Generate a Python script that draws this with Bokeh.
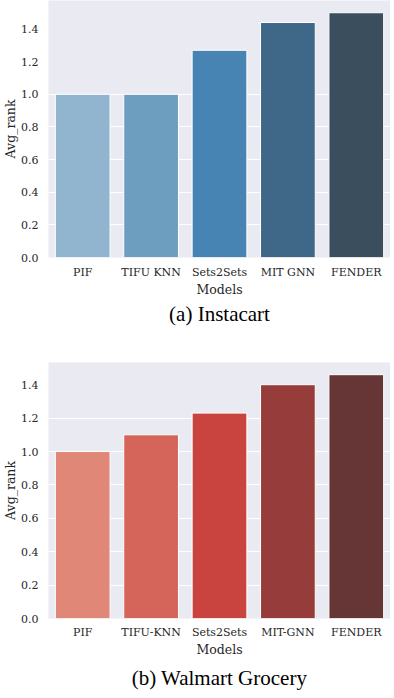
from bokeh.plotting import figure
from bokeh.layouts import column
from bokeh.models import FactorRange, Range1d, FixedTicker, Title, ColumnDataSource, PrintfTickFormatter
from bokeh.embed import file_html
from bokeh.resources import INLINE

models = ["PIF", "TIFU-KNN", "Sets2Sets", "MIT-GNN", "FENDER"]
instacart_labels = ["PIF", "TIFU KNN", "Sets2Sets", "MIT GNN", "FENDER"]
instacart_vals = [1.0, 1.0, 1.27, 1.44, 1.50]
walmart_vals = [1.0, 1.10, 1.23, 1.40, 1.46]
blues = ["#91b5cf", "#6d9ec0", "#4784b3", "#3f6888", "#3a4e5e"]
reds = ["#e08777", "#d5645a", "#c9443e", "#963d3b", "#663637"]
yticks = [0.0, 0.2, 0.4, 0.6, 0.8, 1.0, 1.2, 1.4]

TICK_FONT = "DejaVu Serif"
CAP_FONT = "Liberation Serif"


def panel(labels, vals, colors, caption, height, top_border, bottom_border, grid_max,
          label_standoff, cap_standoff):
    src = ColumnDataSource(dict(x=labels, top=vals, color=colors))
    p = figure(x_range=FactorRange(*labels, range_padding=0),
               y_range=Range1d(0, max(vals) * 1.05),
               width=390, height=height, output_backend="svg", toolbar_location=None,
               min_border_left=46, min_border_right=0,
               min_border_top=top_border, min_border_bottom=bottom_border)
    p.background_fill_color = "#eaeaf2"
    p.border_fill_color = "white"
    p.outline_line_color = None
    p.vbar(x="x", top="top", width=0.8, fill_color="color", line_color="white",
           line_width=1, source=src)
    p.xgrid.grid_line_color = None
    p.ygrid.ticker = FixedTicker(ticks=[t for t in yticks if t <= grid_max + 1e-9])
    p.ygrid.grid_line_color = "white"
    p.ygrid.grid_line_width = 1
    p.yaxis.ticker = FixedTicker(ticks=yticks)
    p.yaxis.formatter = PrintfTickFormatter(format="%.1f")
    for ax in (p.xaxis[0], p.yaxis[0]):
        ax.axis_line_color = None
        ax.major_tick_line_color = None
        ax.minor_tick_line_color = None
        ax.major_label_text_font = TICK_FONT
        ax.major_label_text_font_size = "11px"
        ax.major_label_text_color = "#262626"
        ax.axis_label_text_font = TICK_FONT
        ax.axis_label_text_font_size = "12.5px"
        ax.axis_label_text_font_style = "normal"
        ax.axis_label_text_color = "#262626"
    p.xaxis.axis_label = "Models"
    p.xaxis.major_label_standoff = label_standoff
    p.xaxis.axis_label_standoff = 0
    p.yaxis.axis_label = "Avg_rank"
    p.yaxis.major_label_standoff = 4
    p.yaxis.axis_label_standoff = 0
    t = Title(text=caption, align="center", text_font=CAP_FONT, text_font_size="21px",
              text_font_style="normal", text_color="black", standoff=cap_standoff)
    p.add_layout(t, "below")
    return p


p1 = panel(instacart_labels, instacart_vals, blues, "(a) Instacart", 329, 0, 72, 1.0, 2, 0)
p2 = panel(models, walmart_vals, reds, "(b) Walmart Grocery", 365, 33, 76, 1.2, 1, 9)

layout = column(p1, p2, spacing=0)
open("out.html", "w").write(file_html(layout, INLINE))
